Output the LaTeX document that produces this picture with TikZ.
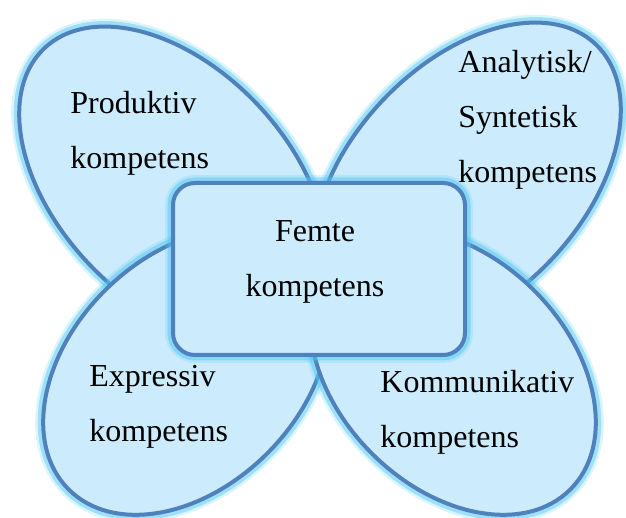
\documentclass[tikz,border=0pt]{standalone}
\usepackage{fontspec}
\setmainfont{Liberation Serif}
\usetikzlibrary{positioning, shapes.geometric}
\definecolor{wingfill}{RGB}{204,236,253}
\definecolor{wingline}{RGB}{79,129,189}
\definecolor{wingglow}{RGB}{80,200,242}

\begin{document}
\begin{tikzpicture}[x=0.5pt, y=0.5pt,
  glow/.style={preaction={draw=wingglow, line width=8pt, opacity=.2},
    preaction={draw=wingglow, line width=5.5pt, opacity=.45}},
  wing/.style={ellipse, glow, draw=wingline, fill=wingfill, line width=2pt, inner sep=0pt},
  core/.style={rectangle, glow, rounded corners=11pt, draw=wingline, fill=wingfill,
    line width=2pt, inner sep=0pt, minimum width=146pt, minimum height=86pt},
  words/.style={align=left, inner sep=0pt, font=\fontsize{16}{27.5}\selectfont}]
  \useasboundingbox (0,0) rectangle (626,518);
  % wings
  \node (prod) [wing, minimum width=187pt, minimum height=116pt, rotate=-46.5] at (173,334) {};
  \node (anal) [wing, minimum width=187pt, minimum height=116pt, rotate=46.5] at (467,338) {};
  \node (expr) [wing, minimum width=166pt, minimum height=115pt, rotate=45] at (186,146) {};
  \node (komm) [wing, minimum width=166pt, minimum height=115pt, rotate=-45] at (453,146) {};
  % body
  \node (femte) [core] at (319,249) {};
  % texts
  \node (prodtext) [words, anchor=north west] at (70,427) {Produktiv\\kompetens};
  \node (analtext) [words, anchor=north west] at (458,468) {Analytisk/\\Syntetisk\\kompetens};
  \node (femtetext) [words, align=center, anchor=north] at (315,298) {Femte\\kompetens};
  \node (exprtext) [words, anchor=north west] at (89,153) {Expressiv\\kompetens};
  \node (kommtext) [words, anchor=north west] at (380,148) {Kommunikativ\\kompetens};
\end{tikzpicture}
\end{document}
